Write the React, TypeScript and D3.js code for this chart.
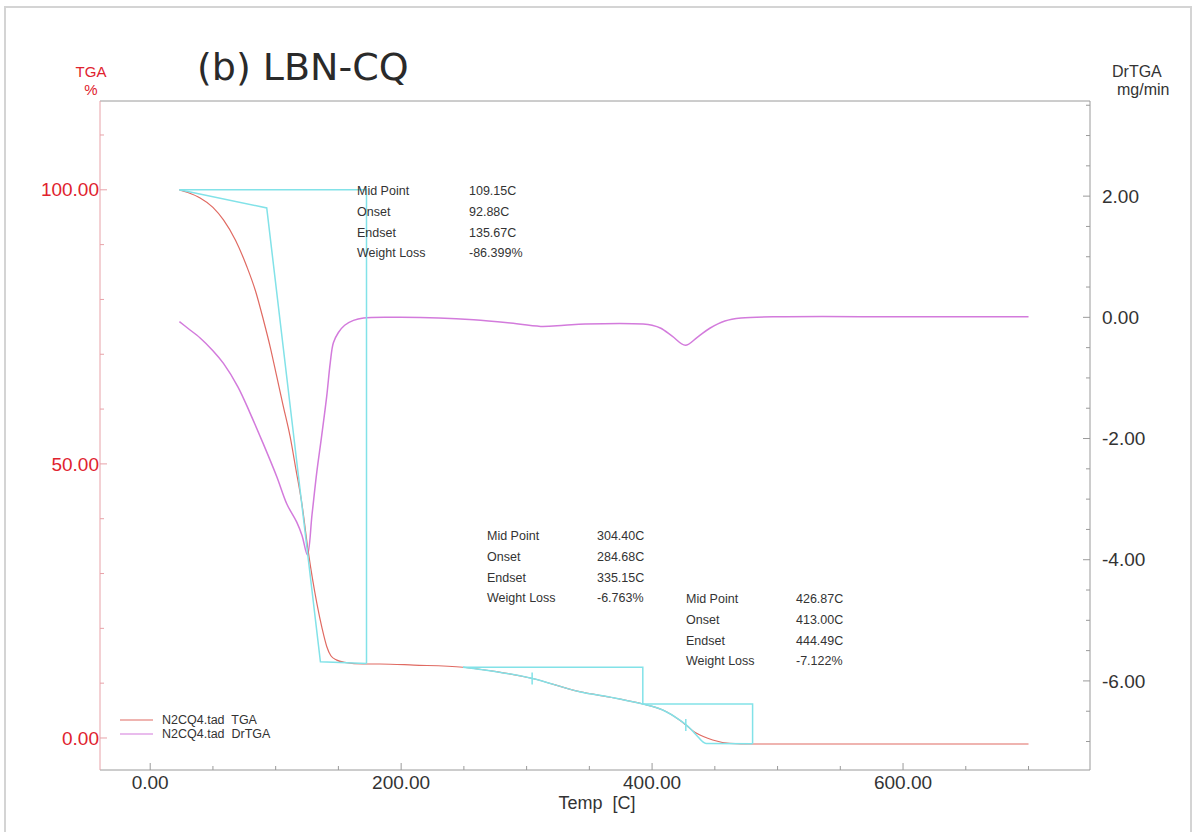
import React from "react";
import * as d3 from "d3";

const W = 1194;
const H = 832;

// TGA curve: temperature (C) and weight (%)
const tgaTemp = [23.3, 30, 39.8, 50, 58.4, 68, 77, 84, 90.2, 96, 100.9, 106, 111.5, 116, 120.8, 126.1, 132.8, 137, 140.7, 144, 148.7, 155, 169.9, 183, 210, 249.3, 275.9, 303.8, 342.2, 370, 392.6, 408.5, 421.8, 435.1, 448.3, 461.6, 480, 517.3, 600, 700];
const tgaPct = [100, 99.5, 98.5, 96.8, 94.5, 90.8, 86.0, 81.5, 76.3, 71.0, 65.9, 60.6, 55.0, 49.2, 42.9, 33.8, 24.6, 20.0, 16.7, 15.0, 14.2, 13.8, 13.5, 13.5, 13.3, 12.9, 12.1, 10.9, 8.45, 7.3, 6.2, 5.1, 3.3, 0.9, -0.36, -0.97, -1.1, -1.1, -1.1, -1.1];

// DrTGA curve: temperature (C) and mg/min
const drTemp = [23.3, 30, 39.8, 50, 58.4, 70, 79.6, 90, 100.9, 108.9, 116.8, 121, 125.3, 129, 132.8, 136.5, 140.7, 143.5, 146, 150, 155, 162, 170, 199.1, 230, 257.8, 285, 311.2, 330, 346.6, 392.8, 400, 407, 416, 426.5, 436, 446, 458, 470.9, 506.4, 600, 700];
const drVal = [-0.07, -0.18, -0.34, -0.55, -0.76, -1.15, -1.58, -2.08, -2.63, -3.08, -3.38, -3.6, -3.92, -3.25, -2.55, -1.98, -1.3, -0.75, -0.42, -0.25, -0.13, -0.05, -0.01, 0.0, -0.01, -0.04, -0.09, -0.15, -0.13, -0.11, -0.11, -0.13, -0.18, -0.31, -0.46, -0.33, -0.18, -0.06, -0.01, 0.01, 0.01, 0.01];

// analysis construction lines (cyan), temperature / %
const step1Tangent: [number, number][] = [[23.3, 100], [92.88, 96.7], [135.67, 13.9], [172.4, 13.6]];
const step1Box: [number, number][] = [[23.3, 100], [172.4, 100], [172.4, 13.6]];
const step2Box: [number, number][] = [[249.3, 12.9], [392.6, 12.9], [392.6, 6.2], [480.1, 6.2], [480.1, -1.05]];
const step3Tail: [number, number][] = [[435, 0.6], [443, -1.0], [480.1, -1.05]];
const midTicks = [304.4, 426.87];

const annLabels = ["Mid Point", "Onset", "Endset", "Weight Loss"];
const annValues = [
  ["109.15C", "92.88C", "135.67C", "-86.399%"],
  ["304.40C", "284.68C", "335.15C", "-6.763%"],
  ["426.87C", "413.00C", "444.49C", "-7.122%"],
];
const legendNames = ["N2CQ4.tad  TGA", "N2CQ4.tad  DrTGA"];

const xMajor = [0, 200, 400, 600];
const yLMajor = [0, 50, 100];
const yRMajor = [2, 0, -2, -4, -6];

const RED = "#e06a62";
const MAG = "#d37bdc";
const CYAN = "#82e2e8";
const AXRED = "#e8a2a8";
const LBLRED = "#e0222e";
const GREY = "#9a9a9a";
const TXT = "#333";
const FONT = "'Liberation Sans', Arial, sans-serif";

export default function App() {
  const left = 100, right = 1090, top = 101, bottom = 770;
  const x = d3.scaleLinear().domain([-40, 749]).range([left, right]);
  const yL = d3.scaleLinear().domain([-5.84, 116.2]).range([bottom, top]);
  const yR = d3.scaleLinear().domain([-7.47, 3.57]).range([bottom, top]);

  const tga = tgaTemp.map((t, i) => [t, tgaPct[i]] as [number, number]);
  const dr = drTemp.map((t, i) => [t, drVal[i]] as [number, number]);

  const lineL = d3.line<[number, number]>().x(d => x(d[0])).y(d => yL(d[1])).curve(d3.curveMonotoneX);
  const lineR = d3.line<[number, number]>().x(d => x(d[0])).y(d => yR(d[1])).curve(d3.curveCatmullRom.alpha(0.5));
  const poly = d3.line<[number, number]>().x(d => x(d[0])).y(d => yL(d[1]));

  const pctAt = (t: number) => {
    const i = d3.bisector((d: [number, number]) => d[0]).left(tga, t);
    const a = tga[Math.max(0, i - 1)], b = tga[Math.min(tga.length - 1, i)];
    if (a[0] === b[0]) return a[1];
    return a[1] + ((t - a[0]) / (b[0] - a[0])) * (b[1] - a[1]);
  };
  const seg = (t0: number, t1: number) =>
    [[t0, pctAt(t0)] as [number, number], ...tga.filter(d => d[0] > t0 && d[0] < t1), [t1, pctAt(t1)] as [number, number]];

  const annPos = [
    { lx: 357, vx: 469, y: 191 },
    { lx: 487, vx: 597, y: 536 },
    { lx: 686, vx: 796, y: 599 },
  ];
  const rowH = 20.6;

  return (
    <div style={{ position: "absolute", left: 0, top: 0 }}>
      <svg width={W} height={H} style={{ display: "block", background: "#fff" }} fontFamily={FONT}>
        <rect x={5} y={7} width={1186} height={840} fill="none" stroke="#d4d4d4" strokeWidth={2} />

        {/* frame */}
        <line x1={left} x2={right} y1={top} y2={top} stroke={GREY} />
        <line x1={right} x2={right} y1={top} y2={bottom} stroke={GREY} />
        <line x1={left} x2={right} y1={bottom} y2={bottom} stroke={GREY} />
        <line x1={left} x2={left} y1={top} y2={bottom} stroke={AXRED} />

        {/* x axis */}
        {d3.range(0, 701, 50).map(t => (
          <line key={"xm" + t} x1={x(t)} x2={x(t)} y1={bottom} y2={bottom - (t % 200 === 0 ? 7 : 4)} stroke={GREY} />
        ))}
        {xMajor.map(t => (
          <text key={"xl" + t} x={x(t)} y={789} textAnchor="middle" fontSize={19} fill={TXT}>{t.toFixed(2)}</text>
        ))}
        <text x={597} y={809} textAnchor="middle" fontSize={18} fill={TXT} style={{ whiteSpace: "pre" }}>Temp  [C]</text>

        {/* left axis */}
        {d3.range(0, 111, 10).map(v => (
          <line key={"yl" + v} x1={left} x2={left + (v % 50 === 0 ? 7 : 4)} y1={yL(v)} y2={yL(v)} stroke={AXRED} />
        ))}
        {yLMajor.map(v => (
          <text key={"yll" + v} x={99} y={yL(v)} dy="0.35em" textAnchor="end" fontSize={19} fill={LBLRED}>{v.toFixed(2)}</text>
        ))}
        <text x={91} y={77} textAnchor="middle" fontSize={15} fill={LBLRED}>TGA</text>
        <text x={91} y={95} textAnchor="middle" fontSize={15} fill={LBLRED}>%</text>

        {/* right axis */}
        {d3.range(-7, 3.6, 0.5).map(v => (
          <line key={"yr" + v} x1={right} x2={right - (v % 2 === 0 ? 7 : 4)} y1={yR(v)} y2={yR(v)} stroke={GREY} />
        ))}
        {yRMajor.map(v => (
          <text key={"yrl" + v} x={1102} y={yR(v)} dy="0.35em" fontSize={19} fill={TXT}>{v.toFixed(2)}</text>
        ))}
        <text x={1112} y={77} fontSize={16} fill={TXT}>DrTGA</text>
        <text x={1117} y={95} fontSize={16} fill={TXT}>mg/min</text>

        {/* title */}
        <text x={197} y={80} fontSize={38} fill="#2a2a2a" fontFamily="'DejaVu Sans', sans-serif">(b) LBN-CQ</text>

        {/* curves */}
        <path d={lineR(dr) || ""} fill="none" stroke={MAG} strokeWidth={1.5} />
        <path d={lineL(tga) || ""} fill="none" stroke={RED} strokeWidth={1.2} />

        {/* construction lines */}
        <g fill="none" stroke={CYAN} strokeWidth={1.5}>
          <path d={poly(step1Box) || ""} />
          <path d={poly(step1Tangent) || ""} />
          <path d={poly(step2Box) || ""} />
          <path d={lineL(seg(249.3, 392.6)) || ""} />
          <path d={lineL([...seg(392.6, 430), ...step3Tail]) || ""} />
          {midTicks.map(t => (
            <line key={"mt" + t} x1={x(t)} x2={x(t)} y1={yL(pctAt(t)) - 6} y2={yL(pctAt(t)) + 6} />
          ))}
        </g>

        {/* annotations */}
        {annValues.map((vals, k) => (
          <g key={"ann" + k} fontSize={12.5} fill={TXT}>
            {annLabels.map((lab, r) => (
              <text key={lab} x={annPos[k].lx} y={annPos[k].y + r * rowH} dy="0.35em">{lab}</text>
            ))}
            {vals.map((v, r) => (
              <text key={v} x={annPos[k].vx} y={annPos[k].y + r * rowH} dy="0.35em">{v}</text>
            ))}
          </g>
        ))}

        {/* legend */}
        {legendNames.map((n, i) => (
          <g key={n}>
            <line x1={120} x2={153} y1={720 + i * 14} y2={720 + i * 14} stroke={i === 0 ? RED : MAG} strokeWidth={1.2} />
            <text x={162} y={720 + i * 14} dy="0.35em" fontSize={12.5} fill={TXT} style={{ whiteSpace: "pre" }}>{n}</text>
          </g>
        ))}
      </svg>
    </div>
  );
}
